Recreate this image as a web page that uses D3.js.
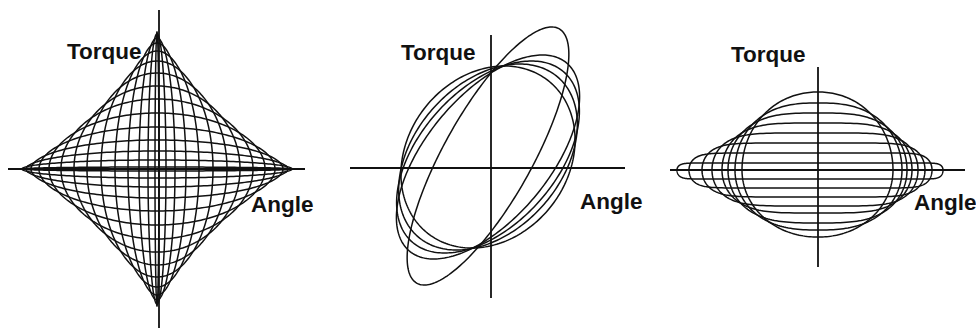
<!DOCTYPE html>
<html>
<head>
<meta charset="utf-8">
<script src="https://cdn.jsdelivr.net/npm/d3@7"></script>
<style>
  body { margin: 0; background: #fff; }
  text { font-family: "Liberation Sans", Arial, sans-serif; font-weight: bold; font-size: 22.5px; fill: #111; }
</style>
</head>
<body>
<svg id="chart" width="976" height="328"></svg>
<script>
// panel 1: star of centred ellipses, semi-axes along angle / torque
const starA = [2, 9, 18, 29, 42, 56, 70, 83, 96, 108, 118, 126, 131, 135, 137];
const starB = [137, 135, 131, 126, 118, 108, 96, 83, 70, 56, 42, 29, 18, 9, 2];

// panel 2: tilted loops, x = X sin t + shear*y, y = Y sin(t + phase) + lift
const loopX = [73, 87, 88, 87, 86];
const loopY = [129, 102, 96, 93, 91];
const loopPhase = [43, 58, 66, 74, 84];
const loopLift = [12, 11, 11, 11, 11];
const loopShear = 0.08;

// panel 3: flattened loops, extents from the axes
const flatTop = [7, 17, 27, 37, 47, 57, 67, 78];
const flatBottom = [9, 18, 27, 36, 43, 53, 60, 67];
const flatLeft = [141, 129, 116, 106, 96, 90, 83, 76];
const flatRight = [125, 114, 107, 100, 94, 89, 84, 75];

const axisLabels = ["Torque", "Angle"];

const svg = d3.select("#chart");
const N = 240;
const ts = d3.range(N).map(i => i / N * 2 * Math.PI);

function panel(o) {
    const x = d3.scaleLinear().domain([-1, 1]).range([o.cx - 1, o.cx + 1]);
    const y = d3.scaleLinear().domain([-1, 1]).range([o.cy + 1, o.cy - 1]);
    const g = svg.append("g");

    // axes
    g.append("line")
        .attr("x1", x(-o.left)).attr("x2", x(o.right))
        .attr("y1", y(0)).attr("y2", y(0))
        .attr("stroke", "#111").attr("stroke-width", 1.8);
    g.append("line")
        .attr("x1", x(0)).attr("x2", x(0))
        .attr("y1", y(o.up)).attr("y2", y(-o.down))
        .attr("stroke", "#111").attr("stroke-width", 1.8);

    const line = d3.line()
        .x(d => x(d[0] + o.dx))
        .y(d => y(d[1]))
        .curve(d3.curveLinearClosed);

    g.selectAll("path.curve")
        .data(o.curves)
        .join("path")
        .attr("class", "curve")
        .attr("d", line)
        .attr("fill", "none")
        .attr("stroke", "#111")
        .attr("stroke-width", 1.5);

    g.append("text").attr("x", o.torque[0]).attr("y", o.torque[1]).text(axisLabels[0]);
    g.append("text").attr("x", o.angle[0]).attr("y", o.angle[1]).text(axisLabels[1]);
}

// panel 1
const starCurves = starA.map((a, i) =>
    ts.map(t => [a * Math.cos(t), starB[i] * Math.sin(t)]));
panel({cx: 159, cy: 169, dx: -2, left: 151, right: 146, up: 159, down: 159,
       curves: starCurves, torque: [67, 59], angle: [251, 212]});

// panel 2
const loopCurves = loopX.map((X, i) => {
    const ph = loopPhase[i] * Math.PI / 180;
    return ts.map(t => {
        const yy = loopY[i] * Math.sin(t + ph);
        return [X * Math.sin(t) + loopShear * yy, yy + loopLift[i]];
    });
});
panel({cx: 491, cy: 168, dx: -3, left: 141, right: 134, up: 133, down: 130,
       curves: loopCurves, torque: [401, 60], angle: [580, 209]});

// panel 3
const flatCurves = flatTop.map((top, i) => {
    const p = (flatLeft[i] + flatRight[i]) / ((top + flatBottom[i]) / 2);
    return ts.map(t => {
        const c = Math.cos(t), s = Math.sin(t);
        const xs = Math.sign(c) * Math.pow(Math.abs(c), 2 / p);
        return [xs * (c >= 0 ? flatRight[i] : flatLeft[i]),
                s * (s >= 0 ? top : flatBottom[i])];
    });
});
panel({cx: 818, cy: 170, dx: 0, left: 148, right: 147, up: 103, down: 97,
       curves: flatCurves, torque: [731, 62], angle: [914, 210]});
</script>
</body>
</html>
